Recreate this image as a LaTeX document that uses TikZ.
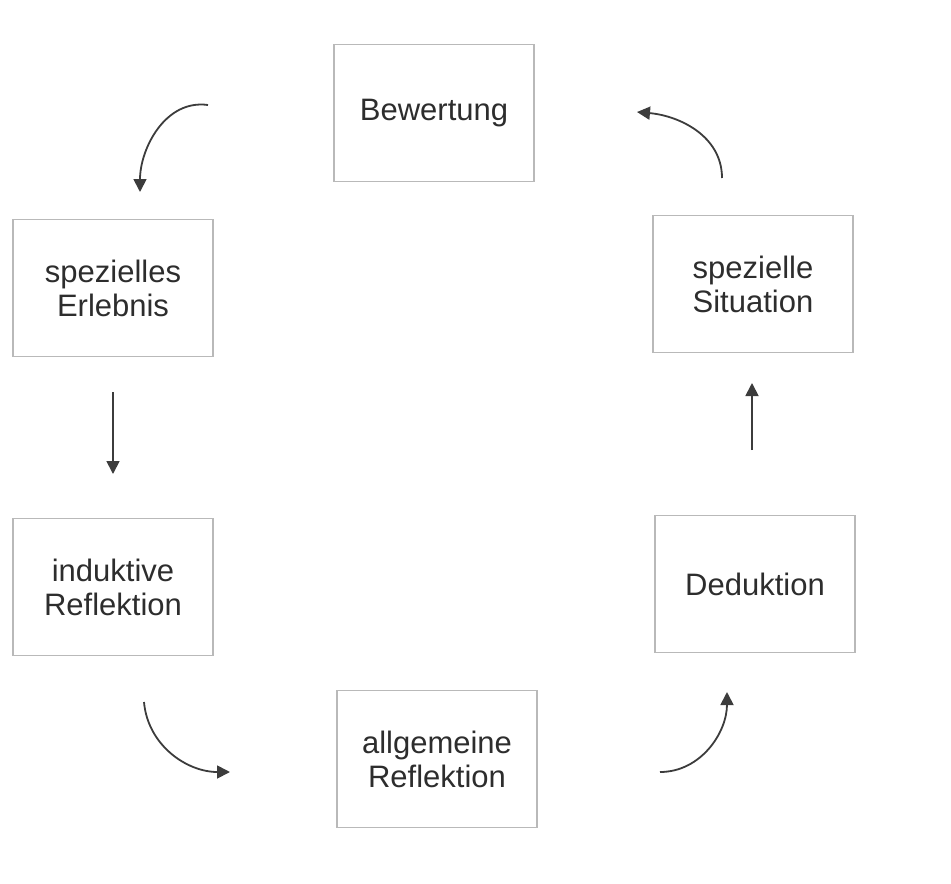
\documentclass[tikz,border=0pt]{standalone}
\usepackage{fontspec}
\setmainfont{Liberation Sans}
\usetikzlibrary{arrows.meta}
\definecolor{boxline}{RGB}{185,185,185}
\definecolor{ink}{RGB}{45,45,45}
\definecolor{arrowink}{RGB}{60,60,60}
\begin{document}
\begin{tikzpicture}[x=1pt,y=-1pt,
  stagebox/.style={draw=boxline, line width=1.3pt, minimum width=200pt, minimum height=137pt,
    align=center, text=ink, inner sep=0pt,
    font=\fontsize{31}{34}\selectfont},
  flow/.style={draw=arrowink, line width=1.8pt, -{Triangle[length=13pt,width=13pt]}}]
\useasboundingbox (0,0) rectangle (951,884);

% the six stages of the cycle
\node[stagebox] (bew)  at (434,113) {Bewertung};
\node[stagebox] (erl)  at (113,288) {spezielles\\Erlebnis};
\node[stagebox] (ind)  at (113,587) {induktive\\Reflektion};
\node[stagebox] (allg) at (437,759) {allgemeine\\Reflektion};
\node[stagebox] (ded)  at (755,584) {Deduktion};
\node[stagebox] (sit)  at (753,284) {spezielle\\Situation};

% free ends of the arrows between the stages
\coordinate (a1s) at (208,105);  \coordinate (a1e) at (140,192);
\coordinate (a2s) at (113,392);  \coordinate (a2e) at (113,474);
\coordinate (a3s) at (144,702);  \coordinate (a3e) at (230,772);
\coordinate (a4s) at (660,772);  \coordinate (a4e) at (727,692);
\coordinate (a5s) at (752,450);  \coordinate (a5e) at (752,383);
\coordinate (a6s) at (722,178);  \coordinate (a6e) at (637,112);

\draw[flow] (a1s) to[out=172,in=90] (a1e);
\draw[flow] (a2s) -- (a2e);
\draw[flow] (a3s) to[out=-85,in=180] (a3e);
\draw[flow] (a4s) to[out=0,in=-90] (a4e);
\draw[flow] (a5s) -- (a5e);
\draw[flow] (a6s) to[out=90,in=-5] (a6e);
\end{tikzpicture}
\end{document}
